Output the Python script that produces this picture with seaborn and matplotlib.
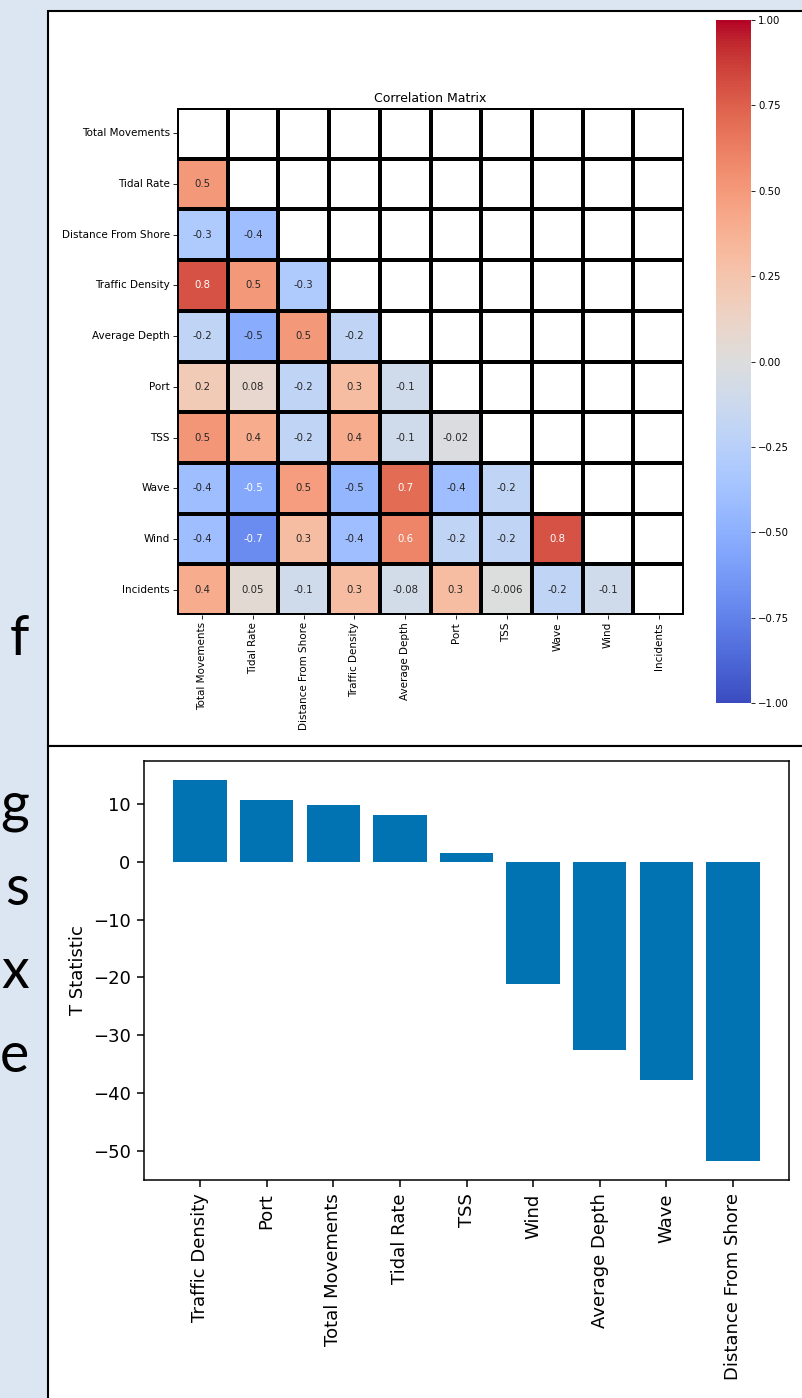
import numpy as np
import pandas as pd
import matplotlib
matplotlib.use('Agg')
import matplotlib.pyplot as plt
from matplotlib.patches import Rectangle
import seaborn as sns

# Data
features = ['Total Movements', 'Tidal Rate', 'Distance From Shore', 'Traffic Density',
            'Average Depth', 'Port', 'TSS', 'Wave', 'Wind', 'Incidents']

# lower triangle of the correlation matrix, row by row
corr_rows = [
    [],
    [0.5],
    [-0.3, -0.4],
    [0.8, 0.5, -0.3],
    [-0.2, -0.52, 0.5, -0.2],
    [0.2, 0.08, -0.2, 0.3, -0.1],
    [0.52, 0.4, -0.2, 0.4, -0.1, -0.02],
    [-0.4, -0.54, 0.48, -0.46, 0.7, -0.4, -0.2],
    [-0.4, -0.7, 0.3, -0.4, 0.6, -0.2, -0.2, 0.8],
    [0.4, 0.05, -0.1, 0.3, -0.08, 0.3, -0.006, -0.2, -0.1],
]

bar_labels = ['Traffic Density', 'Port', 'Total Movements', 'Tidal Rate', 'TSS',
              'Wind', 'Average Depth', 'Wave', 'Distance From Shore']
t_stats = [14.2, 10.8, 9.9, 8.1, 1.5, -21.1, -32.5, -37.8, -51.8]

# build the full symmetric matrix
n = len(features)
mat = np.eye(n)
for i, row in enumerate(corr_rows):
    for j, v in enumerate(row):
        mat[i, j] = v
        mat[j, i] = v
corr = pd.DataFrame(mat, index=features, columns=features)
mask = np.triu(np.ones_like(mat, dtype=bool))

W, H = 802, 1398
fig = plt.figure(figsize=(W / 100, H / 100), dpi=100)
fig.patch.set_facecolor('#DCE6F2')

def px_axes(left, top, right, bottom):
    return fig.add_axes([left / W, 1 - bottom / H, (right - left) / W, (bottom - top) / H])

# slide background: two white screenshot panels and cut-off slide text
bg = fig.add_axes([0, 0, 1, 1])
bg.set_xlim(0, W)
bg.set_ylim(H, 0)
bg.axis('off')
bg.add_patch(Rectangle((48, 11), 800, 735, facecolor='white', edgecolor='black', lw=1.5))
bg.add_patch(Rectangle((48, 746), 800, 700, facecolor='white', edgecolor='black', lw=1.5))
for letter, y in zip(['f', 'g', 's', 'x', 'e'], [655, 822, 905, 988, 1072]):
    bg.text(29, y, letter, ha='right', va='baseline', fontsize=40,
            family=['Lato', 'DejaVu Sans'], color='black')

# correlation heatmap
ax1 = px_axes(177, 108, 684, 615)
cax = px_axes(716, 20, 751, 703)
sns.heatmap(corr, mask=mask, cmap='coolwarm', vmin=-1, vmax=1, annot=True, fmt='.1g',
            annot_kws={'fontsize': 7.3}, linewidths=2.7, linecolor='black',
            ax=ax1, cbar_ax=cax)
ax1.set_title('Correlation Matrix', fontsize=9, pad=4.5)
ax1.set_xticklabels(features, rotation=90, fontsize=7.5)
ax1.set_yticklabels(features, rotation=0, fontsize=7.5)
ax1.tick_params(length=2.6, width=0.6, pad=2.6)
cax.set_yticks([1, 0.75, 0.5, 0.25, 0, -0.25, -0.5, -0.75, -1])
cax.tick_params(labelsize=7.3, length=2.6, width=0.6, pad=2.6)

# t statistic bars
ax2 = px_axes(144, 761, 789, 1180)
ax2.bar(bar_labels, t_stats, color=sns.color_palette('colorblind')[0])
ax2.set_ylabel('T Statistic', fontsize=13, labelpad=4)
ax2.set_yticks([10, 0, -10, -20, -30, -40, -50])
ax2.tick_params(labelsize=13, length=5, width=1.1, pad=4.7)
ax2.tick_params(axis='x', rotation=90)
for s in ax2.spines.values():
    s.set_linewidth(1.1)

fig.savefig('out.png', dpi=100)
